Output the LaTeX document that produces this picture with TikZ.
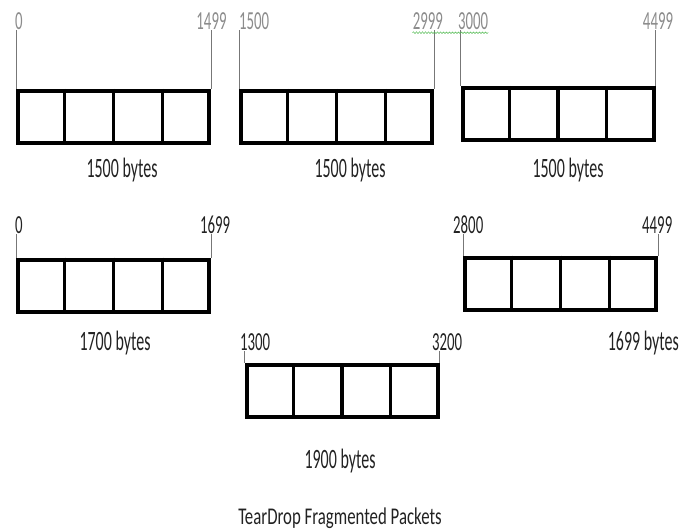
\documentclass[tikz,border=0pt]{standalone}
\usepackage{fontspec}
\setmainfont{Carlito}
\newfontfamily\labfont{Carlito}[FakeStretch=0.57]
\newfontfamily\ttlfont{Carlito}[FakeStretch=0.7]
\usetikzlibrary{calc,decorations.pathmorphing}
\definecolor{lgray}{HTML}{8C8C8C}
\definecolor{tgray}{HTML}{777777}
\definecolor{dtext}{HTML}{222222}
\tikzset{
  pkt/.style={draw=black, line width=4pt, minimum width=191pt, minimum height=52pt, inner sep=0pt, fill=white},
  divl/.style={line width=3.2pt, black},
  lab/.style={font=\labfont\fontsize{26}{26}\selectfont, inner sep=0pt, text=dtext},
  glab/.style={lab, text=lgray},
  sz/.style={font=\labfont\fontsize{28}{28}\selectfont, inner sep=0pt, text=dtext},
  tick/.style={draw=tgray, line width=0.9pt},
}
\newcommand{\dividers}[1]{%
  \foreach \f in {0.25,0.5,0.75}
    \draw[divl] ($(#1.north west)!\f!(#1.north east)$) -- ($(#1.south west)!\f!(#1.south east)$);}
\begin{document}
\begin{tikzpicture}[x=1pt,y=-1pt]
\useasboundingbox (0,0) rectangle (679,529);
% row 1
\node[pkt] (b1) at (113.5,117) {};
\node[pkt] (b2) at (336.5,117) {};
\node[pkt] (b3) at (558,114) {};
\dividers{b1}\dividers{b2}\dividers{b3}
\node[glab, anchor=west] (l0) at (15,21) {0};
\node[glab] (l1499) at (211.5,21) {1499};
\node[glab, anchor=west] (l1500) at (239,21) {1500};
\node[glab, anchor=east] (l2999) at (443,21) {2999};
\node[glab, anchor=west] (l3000) at (458,21) {3000};
\node[glab] (l4499a) at (658,21) {4499};
\draw[tick] (b1.north west) -- (b1.north west |- l0.south);
\draw[tick] (b1.north east) -- (b1.north east |- l1499.south);
\draw[tick] (b2.north west) -- (b2.north west |- l1500.south);
\draw[tick] (b2.north east) -- (b2.north east |- l2999.south);
\draw[tick] (b3.north west) -- (b3.north west |- l3000.south);
\draw[tick] (b3.north east) -- (b3.north east |- l4499a.south);
\coordinate (w1) at (l2999.south west);
\coordinate (w2) at (l3000.south east);
\draw[green!60!black!70, line width=0.5pt, decorate, decoration={snake, amplitude=0.8pt, segment length=3pt}] ($(w1)+(0,3)$) -- ($(w2)+(0,3)$);
\node[sz] (s1) at (122,170) {1500 bytes};
\node[sz] (s2) at (350,170) {1500 bytes};
\node[sz] (s3) at (568,170) {1500 bytes};
% row 2
\node[pkt] (b4) at (113.5,285.5) {};
\node[pkt] (b5) at (560.5,283.5) {};
\dividers{b4}\dividers{b5}
\node[lab, anchor=west] (m0) at (15,225) {0};
\node[lab, anchor=west] (m1699) at (200,225) {1699};
\node[lab, anchor=west] (m2800) at (453,225) {2800};
\node[lab, anchor=west] (m4499) at (642,225) {4499};
\draw[tick] (b4.north west) -- (b4.north west |- m0.south);
\draw[tick] (b4.north east) -- (b4.north east |- m1699.south);
\draw[tick] (b5.north west) -- (b5.north west |- m2800.south);
\draw[tick] (b5.north east) -- (b5.north east |- m4499.south);
\node[sz] (s4) at (115,343) {1700 bytes};
\node[sz, anchor=east] (s5) at (679,343) {1699 bytes};
% row 3
\node[pkt] (b6) at (342,391) {};
\dividers{b6}
\node[lab, anchor=west] (n1300) at (240,342) {1300};
\node[lab, anchor=west] (n3200) at (432,342) {3200};
\draw[tick] (b6.north west) -- (b6.north west |- n1300.south);
\draw[tick] (b6.north east) -- (b6.north east |- n3200.south);
\node[sz] (s6) at (340,461) {1900 bytes};
% title
\node[font=\ttlfont\fontsize{24}{24}\selectfont, inner sep=0pt, text=dtext] (title) at (340,518) {TearDrop Fragmented Packets};
\end{tikzpicture}
\end{document}
